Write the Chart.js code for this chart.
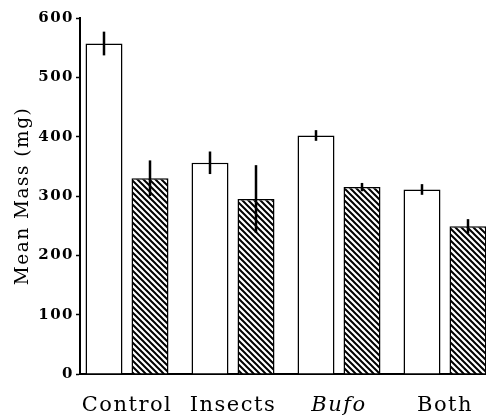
<!DOCTYPE html>
<html>
<head>
<meta charset="utf-8">
<script src="https://cdn.jsdelivr.net/npm/chart.js@4"></script>
<style>
  html, body { margin: 0; padding: 0; background: #fff; overflow: hidden; }
  #wrap { width: 486px; height: 416px; position: relative; }
</style>
</head>
<body>
<div id="wrap"><canvas id="massChart"></canvas></div>
<script>
const categories = ['Control', 'Insects', 'Bufo', 'Both'];
const openMeans = [557, 356, 402, 311];
const openErrors = [20, 19, 9, 9];
const hatchedMeans = [330, 295, 315, 249];
const hatchedErrors = [30, 57, 7, 12];
const yTicks = [0, 100, 200, 300, 400, 500, 600];

const serif = "'DejaVu Serif', 'Liberation Serif', serif";

// diagonal hatch, lines running down to the right
function makeHatch() {
    const s = 6;
    const c = document.createElement('canvas');
    c.width = s; c.height = s;
    const g = c.getContext('2d');
    g.fillStyle = '#fff';
    g.fillRect(0, 0, s, s);
    g.strokeStyle = '#000';
    g.lineWidth = 2;
    g.beginPath();
    g.moveTo(-1, -1); g.lineTo(s + 1, s + 1);
    g.moveTo(-1, s - 1); g.lineTo(1, s + 1);
    g.moveTo(s - 1, -1); g.lineTo(s + 1, 1);
    g.stroke();
    return g.createPattern(c, 'repeat');
}

const errorBars = {
    id: 'errorBars',
    afterDatasetsDraw(chart) {
        const ctx = chart.ctx;
        const y = chart.scales.y;
        const errs = [openErrors, hatchedErrors];
        ctx.save();
        ctx.strokeStyle = '#000';
        ctx.lineWidth = 2.5;
        chart.data.datasets.forEach((ds, d) => {
            chart.getDatasetMeta(d).data.forEach((bar, i) => {
                const v = ds.data[i].y;
                ctx.beginPath();
                ctx.moveTo(bar.x, y.getPixelForValue(v + errs[d][i]));
                ctx.lineTo(bar.x, y.getPixelForValue(v - errs[d][i]));
                ctx.stroke();
            });
        });
        ctx.restore();
    }
};

const spacing = {
    id: 'spacing',
    beforeDraw(chart) { chart.ctx.letterSpacing = '1.5px'; },
    afterDraw(chart) { chart.ctx.letterSpacing = '0px'; }
};

new Chart(document.getElementById('massChart'), {
    type: 'bar',
    data: {
        datasets: [{
            data: categories.map((c, i) => ({ x: i, y: openMeans[i] })),
            backgroundColor: '#fff',
            borderColor: '#000',
            borderWidth: 1.5
        }, {
            data: categories.map((c, i) => ({ x: i, y: hatchedMeans[i] })),
            backgroundColor: makeHatch(),
            borderColor: '#000',
            borderWidth: 1.5
        }]
    },
    options: {
        responsive: true,
        maintainAspectRatio: false,
        animation: false,
        categoryPercentage: 0.868,
        barPercentage: 0.804,
        layout: { padding: { top: 18, right: 0, bottom: 0, left: 0 } },
        plugins: { legend: { display: false }, tooltip: { enabled: false } },
        scales: {
            x: {
                type: 'linear',
                min: -0.4434,
                max: 3.3868,
                offset: false,
                afterBuildTicks: (scale) => { scale.ticks = categories.map((c, i) => ({ value: i })); },
                afterFit: (scale) => { scale.height = 42; },
                grid: { display: false },
                border: { display: true, color: '#000', width: 2 },
                ticks: {
                    autoSkip: false,
                    maxRotation: 0,
                    padding: 11,
                    color: '#000',
                    callback: (v) => categories[v],
                    font: (ctx) => ({ family: serif, size: 21, style: ctx.index === 2 ? 'italic' : 'normal' })
                }
            },
            y: {
                min: 0,
                max: 600,
                afterBuildTicks: (scale) => { scale.ticks = yTicks.map(v => ({ value: v })); },
                afterFit: (scale) => { scale.width = 80; },
                grid: { drawOnChartArea: false, drawTicks: true, tickLength: 4, tickColor: '#000', tickWidth: 1.5 },
                border: { display: true, color: '#000', width: 2 },
                ticks: {
                    padding: 2,
                    color: '#000',
                    font: { family: serif, size: 15, weight: 'bold' }
                },
                title: {
                    display: true,
                    text: 'Mean Mass (mg)',
                    color: '#000',
                    padding: { top: 12, bottom: 0 },
                    font: { family: serif, size: 18.5 }
                }
            }
        }
    },
    plugins: [errorBars, spacing]
});
</script>
</body>
</html>
